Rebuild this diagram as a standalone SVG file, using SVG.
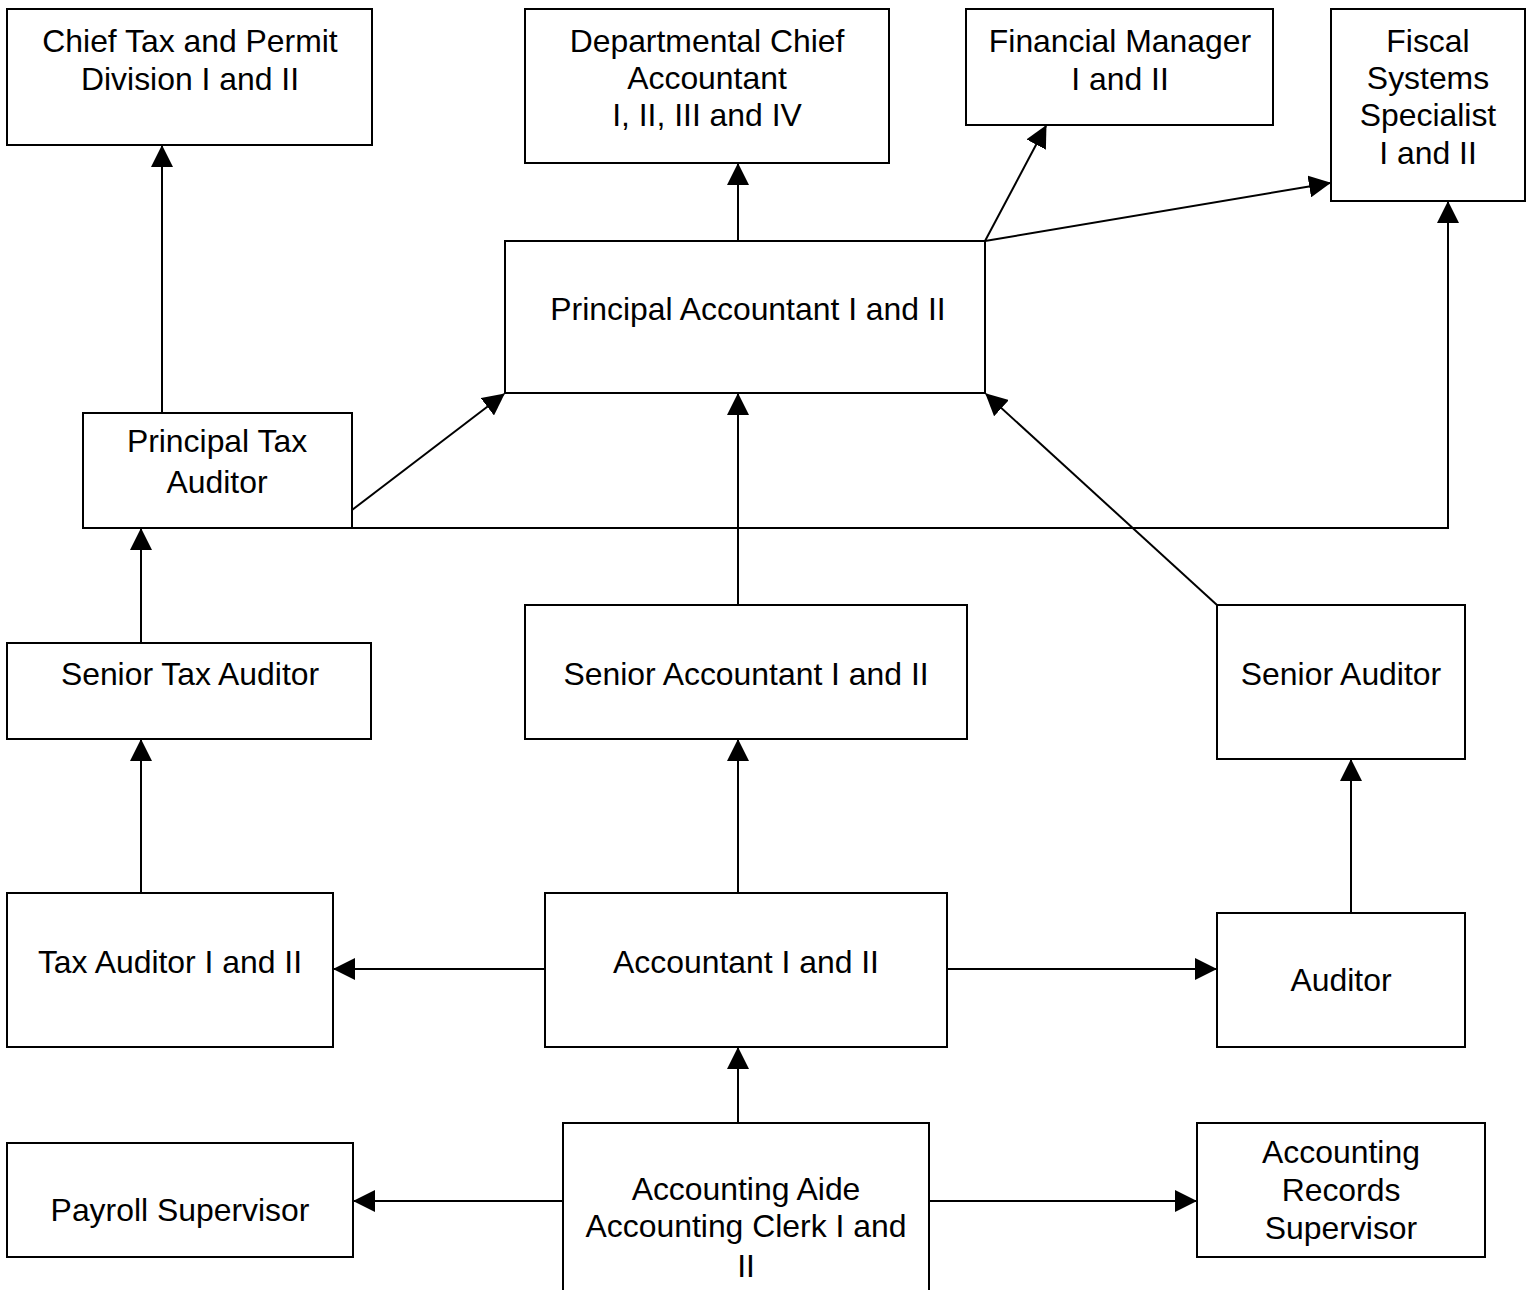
<svg xmlns="http://www.w3.org/2000/svg" width="1531" height="1290" viewBox="0 0 1531 1290">
<style>
.box{fill:#fff;stroke:#000;stroke-width:2}
.lbl{font-family:"Liberation Sans",Arial,sans-serif;font-size:31.9px;fill:#000;text-anchor:middle}
.conn{fill:none;stroke:#000;stroke-width:2;marker-end:url(#ah)}
</style>
<defs>
<marker id="ah" markerUnits="userSpaceOnUse" markerWidth="22" markerHeight="22" refX="21" refY="11" orient="auto" viewBox="0 0 22 22">
<path d="M0,0 L22,11 L0,22 z" fill="#000"/>
</marker>
</defs>
<rect width="1531" height="1290" fill="#fff"/>
<g id="connectors">
<path class="conn" d="M162,413 L162,146"/>
<path class="conn" d="M738,241 L738,164"/>
<path class="conn" d="M985,241 L1046,126"/>
<path class="conn" d="M985,241 L1330,183"/>
<path class="conn" d="M352,510 L504,394"/>
<path class="conn" d="M352,528 L1448,528 L1448,202"/>
<path class="conn" d="M738,605 L738,394"/>
<path class="conn" d="M1217,605 L986,394"/>
<path class="conn" d="M141,643 L141,529"/>
<path class="conn" d="M141,893 L141,740"/>
<path class="conn" d="M738,893 L738,740"/>
<path class="conn" d="M1351,913 L1351,760"/>
<path class="conn" d="M545,969 L334,969"/>
<path class="conn" d="M947,969 L1216,969"/>
<path class="conn" d="M738,1123 L738,1048"/>
<path class="conn" d="M563,1201 L354,1201"/>
<path class="conn" d="M929,1201 L1196,1201"/>
</g>
<g id="chief-tax"><rect class="box" x="7" y="9" width="365" height="136"/><text class="lbl" x="190" y="52">Chief Tax and Permit</text><text class="lbl" x="190" y="90">Division I and II</text></g>
<g id="dept-chief"><rect class="box" x="525" y="9" width="364" height="154"/><text class="lbl" x="707" y="52">Departmental Chief</text><text class="lbl" x="707" y="89">Accountant</text><text class="lbl" x="707" y="126">I, II, III and IV</text></g>
<g id="fin-manager"><rect class="box" x="966" y="9" width="307" height="116"/><text class="lbl" x="1120" y="52">Financial Manager</text><text class="lbl" x="1120" y="90">I and II</text></g>
<g id="fiscal"><rect class="box" x="1331" y="9" width="194" height="192"/><text class="lbl" x="1428" y="52">Fiscal</text><text class="lbl" x="1428" y="89">Systems</text><text class="lbl" x="1428" y="126">Specialist</text><text class="lbl" x="1428" y="164">I and II</text></g>
<g id="principal-accountant"><rect class="box" x="505" y="241" width="480" height="152"/><text class="lbl" x="748" y="320">Principal Accountant I and II</text></g>
<g id="principal-tax-auditor"><rect class="box" x="83" y="413" width="269" height="115"/><text class="lbl" x="217" y="452">Principal Tax</text><text class="lbl" x="217" y="493">Auditor</text></g>
<g id="senior-tax-auditor"><rect class="box" x="7" y="643" width="364" height="96"/><text class="lbl" x="190" y="685">Senior Tax Auditor</text></g>
<g id="senior-accountant"><rect class="box" x="525" y="605" width="442" height="134"/><text class="lbl" x="746" y="685">Senior Accountant I and II</text></g>
<g id="senior-auditor"><rect class="box" x="1217" y="605" width="248" height="154"/><text class="lbl" x="1341" y="685">Senior Auditor</text></g>
<g id="tax-auditor"><rect class="box" x="7" y="893" width="326" height="154"/><text class="lbl" x="170" y="973">Tax Auditor I and II</text></g>
<g id="accountant"><rect class="box" x="545" y="893" width="402" height="154"/><text class="lbl" x="746" y="973">Accountant I and II</text></g>
<g id="auditor"><rect class="box" x="1217" y="913" width="248" height="134"/><text class="lbl" x="1341" y="991">Auditor</text></g>
<g id="payroll"><rect class="box" x="7" y="1143" width="346" height="114"/><text class="lbl" x="180" y="1221">Payroll Supervisor</text></g>
<g id="accounting-aide"><rect class="box" x="563" y="1123" width="366" height="190"/><text class="lbl" x="746" y="1200">Accounting Aide</text><text class="lbl" x="746" y="1237">Accounting Clerk I and</text><text class="lbl" x="746" y="1277">II</text></g>
<g id="records-supervisor"><rect class="box" x="1197" y="1123" width="288" height="134"/><text class="lbl" x="1341" y="1163">Accounting</text><text class="lbl" x="1341" y="1201">Records</text><text class="lbl" x="1341" y="1239">Supervisor</text></g>
</svg>
